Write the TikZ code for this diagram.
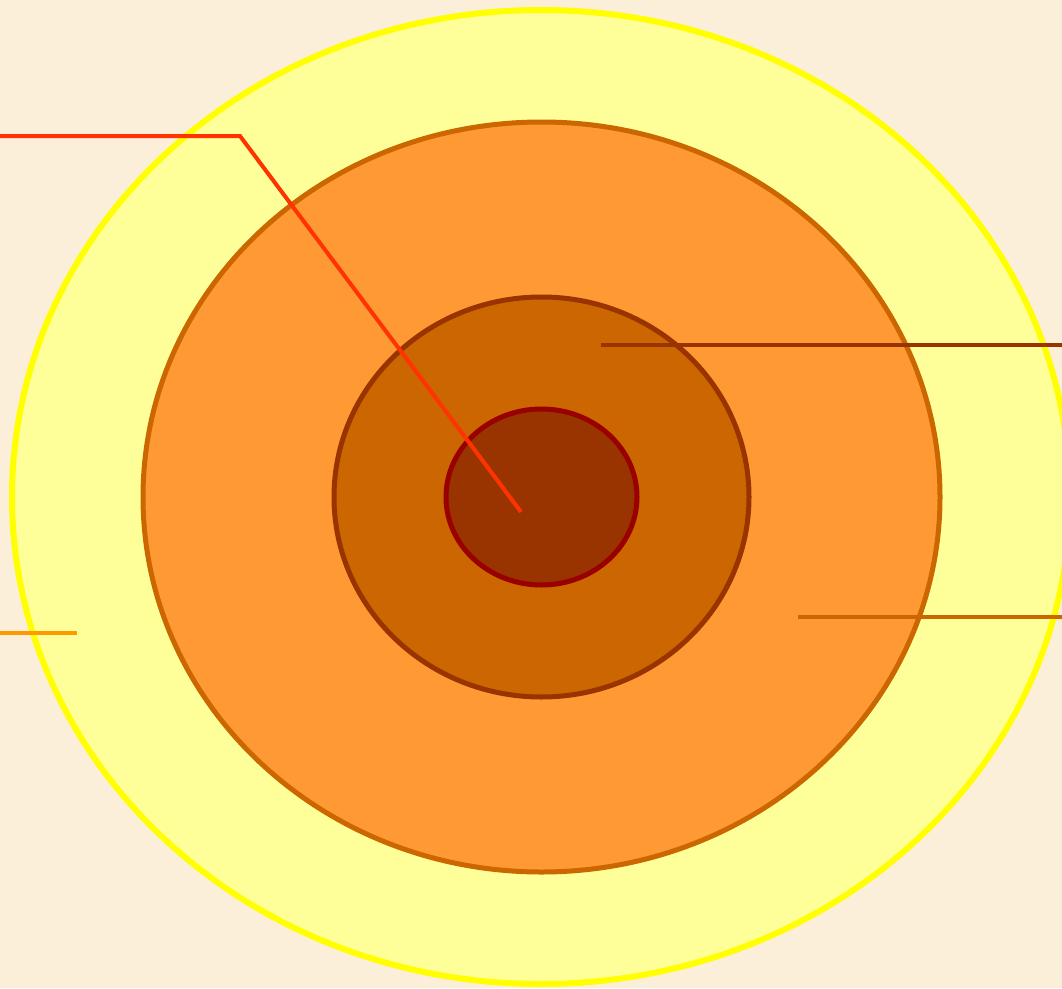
\documentclass[tikz,border=0pt]{standalone}
\usepackage{xcolor}
\usetikzlibrary{positioning,shapes}

\definecolor{paper}{HTML}{FBEFD9}
\definecolor{lightyellow}{HTML}{FFFF99}
\definecolor{pureyellow}{HTML}{FFFF00}
\definecolor{lightorange}{HTML}{FF9933}
\definecolor{midorange}{HTML}{CC6600}
\definecolor{rust}{HTML}{993300}
\definecolor{darkred}{HTML}{990000}
\definecolor{redorange}{HTML}{FF3300}
\definecolor{amber}{HTML}{FF9900}

\begin{document}
\begin{tikzpicture}[x=1pt,y=-1pt,layer/.style={ellipse,draw,inner sep=0pt}]
			\useasboundingbox (0,0) rectangle (1062,988);
			\clip (0,0) rectangle (1062,988);
			\fill[paper] (0,0) rectangle (1062,988);

			\node[layer,fill=lightyellow,draw=pureyellow,line width=6pt,minimum width=1058pt,minimum height=974pt] (L1) at (541,497) {};
			\node[layer,fill=lightorange,draw=midorange,line width=5pt,minimum width=797pt,minimum height=750pt] (L2) at (541.5,497) {};
			\node[layer,fill=midorange,draw=rust,line width=5pt,minimum width=415pt,minimum height=400pt] (L3) at (541.5,497) {};
			\node[layer,fill=rust,draw=darkred,line width=5pt,minimum width=191pt,minimum height=176pt] (L4) at (541.5,497) {};

			\coordinate (A1) at (0,136);
			\coordinate (A2) at (240,136);
			\coordinate (A3) at (521,512);
			\coordinate (B1) at (601,345);
			\coordinate (B2) at (1062,345);
			\coordinate (C1) at (798,617);
			\coordinate (C2) at (1062,617);
			\coordinate (D1) at (0,633);
			\coordinate (D2) at (77,633);

			\draw[redorange,line width=4pt] (A1) -- (A2) -- (A3);
			\draw[rust,line width=4pt] (B1) -- (B2);
			\draw[midorange,line width=4pt] (C1) -- (C2);
			\draw[amber,line width=4pt] (D1) -- (D2);
		\end{tikzpicture}
\end{document}
